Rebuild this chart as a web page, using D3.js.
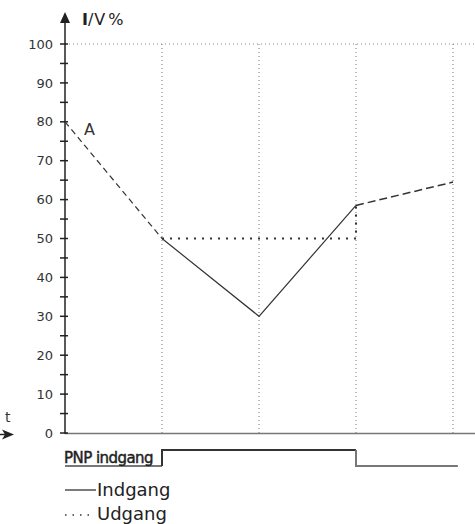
<!DOCTYPE html>
<html><head><meta charset="utf-8">
<script src="https://cdn.jsdelivr.net/npm/d3@7"></script>
<style>body{margin:0;background:#fff}svg{display:block}text{font-family:"DejaVu Sans",sans-serif}</style>
</head><body>
<svg id="c" width="475" height="524"></svg>
<script>
const yTicks = [0,10,20,30,40,50,60,70,80,90,100];
const yMinor = [5,15,25,35,45,55,65,75,85,95];
const timeSteps = [1,2,3,4];
const inputStart = [[0,80],[1,50]];
const inputSolid = [[1,50],[2,30],[3,58.5]];
const inputEnd = [[3,58.5],[4,64.5]];
const outputLine = [[1,50],[3,50],[3,58.5]];
const pnpLow1 = [[0,0],[1,0]];
const pnpHigh = [[1,0],[1,1],[3,1]];
const pnpLow2 = [[3,1],[3,0],[4.05,0]];
const legendItems = ["Indgang","Udgang"];

const svg = d3.select("#c");
const x = d3.scaleLinear().domain([0,4]).range([65,453]);
const y = d3.scaleLinear().domain([0,100]).range([433,44]);
const yp = d3.scaleLinear().domain([0,1]).range([466,450]);
const line = d3.line().x(d=>x(d[0])).y(d=>y(d[1]));
const pline = d3.line().x(d=>x(d[0])).y(d=>yp(d[1]));

// grid: top dotted and vertical dotted lines
svg.append("line").attr("x1",x(0)).attr("x2",475).attr("y1",y(100)).attr("y2",y(100))
  .attr("stroke","#888").attr("stroke-width",1).attr("stroke-dasharray","1,3");
svg.selectAll(".vg").data(timeSteps).enter().append("line")
  .attr("x1",d=>x(d)).attr("x2",d=>x(d)).attr("y1",y(100)).attr("y2",y(0))
  .attr("stroke","#777").attr("stroke-width",1).attr("stroke-dasharray","1,3");

// x axis
svg.append("line").attr("x1",x(0)).attr("x2",475).attr("y1",y(0)+0.5).attr("y2",y(0)+0.5)
  .attr("stroke","#777").attr("stroke-width",1.5);

// y axis
const yAxis = d3.axisLeft(y).tickValues(yTicks).tickSize(0).tickPadding(12);
const gy = svg.append("g").attr("transform",`translate(${x(0)},0)`).call(yAxis);
gy.select(".domain").remove();
gy.selectAll("text").attr("font-size",13).attr("fill","#333").attr("font-family","'DejaVu Sans',sans-serif");
svg.append("line").attr("x1",x(0)).attr("x2",x(0)).attr("y1",y(0)+1).attr("y2",18)
  .attr("stroke","#222").attr("stroke-width",1.5);
svg.append("path").attr("d",`M${x(0)},12 L${x(0)-5},23 L${x(0)+5},23 Z`).attr("fill","#222");
svg.selectAll(".tk").data(yTicks.concat(yMinor)).enter().append("line")
  .attr("x1",x(0)-5).attr("x2",x(0)+3).attr("y1",d=>y(d)).attr("y2",d=>y(d))
  .attr("stroke","#222").attr("stroke-width",1.5);

svg.append("text").attr("x",82).attr("y",25).attr("font-size",16).attr("fill","#222")
  .html('<tspan font-weight="bold">I</tspan><tspan dx="0">/</tspan><tspan dx="1">V</tspan><tspan dx="3">%</tspan>');

// t arrow
svg.append("text").attr("x",5).attr("y",422).attr("font-size",14).attr("fill","#333").text("t");
svg.append("path").attr("d","M0,434.5 L8,434.5").attr("stroke","#222").attr("stroke-width",1.5);
svg.append("path").attr("d","M14,434.5 L2,429.5 L5,434.5 L2,439.5 Z").attr("fill","#222");

// data lines
svg.append("path").attr("d",line(inputStart)).attr("fill","none").attr("stroke","#333")
  .attr("stroke-width",1.2).attr("stroke-dasharray","6,4");
svg.append("path").attr("d",line(inputSolid)).attr("fill","none").attr("stroke","#333").attr("stroke-width",1.2);
svg.append("path").attr("d",line(inputEnd)).attr("fill","none").attr("stroke","#333")
  .attr("stroke-width",1.5).attr("stroke-dasharray","8,4");
svg.append("path").attr("d",line(outputLine)).attr("fill","none").attr("stroke","#333")
  .attr("stroke-width",2).attr("stroke-dasharray","2,6");

svg.append("text").attr("x",84).attr("y",135).attr("font-size",16).attr("fill","#333").text("A");

// PNP signal
svg.append("path").attr("d",pline(pnpLow1)).attr("fill","none").attr("stroke","#777").attr("stroke-width",2);
svg.append("path").attr("d",pline(pnpHigh)).attr("fill","none").attr("stroke","#333").attr("stroke-width",2);
svg.append("path").attr("d",pline(pnpLow2)).attr("fill","none").attr("stroke","#777").attr("stroke-width",2);
svg.append("text").attr("x",64).attr("y",462.5).attr("font-size",15)
  .attr("font-family","'Liberation Sans',Arial,sans-serif")
  .attr("fill","#222").attr("stroke","#222").attr("stroke-width",0.45)
  .attr("letter-spacing","-0.55").text("PNP indgang");

// legend
const lg = svg.selectAll(".lg").data(legendItems).enter().append("g")
  .attr("transform",(d,i)=>`translate(65,${490+i*25})`);
lg.append("line").attr("x1",0).attr("x2",(d,i)=>i===0?31:24).attr("y1",0).attr("y2",0).attr("stroke","#333")
  .attr("stroke-width",1.3).attr("stroke-dasharray",(d,i)=>i===0?null:"1.5,6");
lg.append("text").attr("x",32).attr("y",(d,i)=>i===0?6:5).attr("font-size",18).attr("fill","#222").text(d=>d);
</script>
</body></html>
